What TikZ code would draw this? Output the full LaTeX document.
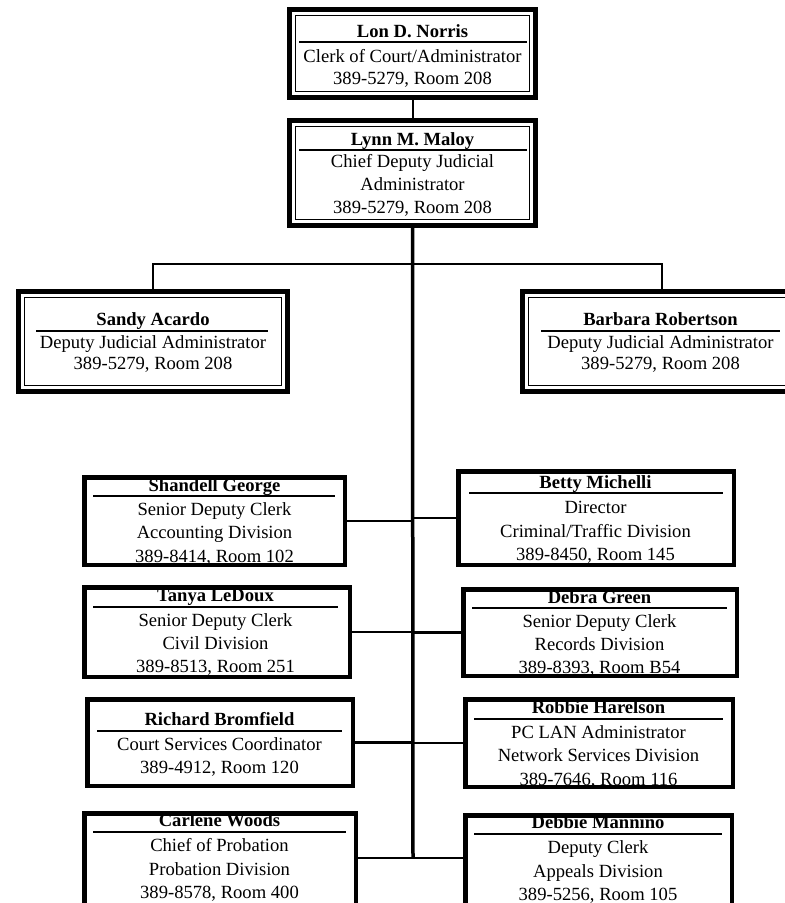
\documentclass[tikz,border=0pt]{standalone}
\usepackage{fontspec}
\setmainfont{Liberation Serif}
\begin{document}
\begin{tikzpicture}[x=1pt,y=1pt,
  tx/.style={anchor=base,inner sep=0pt,outer sep=0pt,font=\fontsize{18.6}{22}\selectfont},
  dblout/.style={draw,line width=5pt,inner sep=0pt,outer sep=0pt,fill=white},
  dblin/.style={line width=1.8pt},
  sgl/.style={draw,line width=4.5pt,inner sep=0pt,outer sep=0pt,fill=white},
  namerule/.style={line width=1.5pt},
  conn/.style={line width=2.5pt},
  trunk/.style={line width=3.5pt}]
\useasboundingbox (0,0) rectangle (785,-903);
\newcounter{tl}
\newcommand\tline[3]{\stepcounter{tl}\node[tx] (tl\arabic{tl}) at (#1,-#2) {#3};}
\newcommand\dblbox[5]{%
  \node[dblout,minimum width={(#4-#2-5)*1pt},minimum height={(#5-#3-5)*1pt}] (#1) at ({(#2+#4)/2},{-(#3+#5)/2}) {};
  \draw[dblin] ([shift={(6,-6)}]#1.north west) rectangle ([shift={(-6,6)}]#1.south east);}
\newcommand\sglbox[5]{%
  \node[sgl,minimum width={(#4-#2-4.5)*1pt},minimum height={(#5-#3-4.5)*1pt}] (#1) at ({(#2+#4)/2},{-(#3+#5)/2}) {};}
\newcommand\nrule[3]{\draw[namerule] (#1,-#3) -- (#2,-#3);}

% connectors first (under boxes)
\coordinate (hb) at (413,-264);
\coordinate (tb) at (413,-858);

% boxes
\dblbox{norris}{287}{7}{538}{100}
\dblbox{maloy}{287}{118}{538}{228}
\dblbox{sandy}{16}{289}{290}{394}
\dblbox{barbara}{520}{289}{804}{394}
\sglbox{shandell}{82}{475}{347}{567}
\sglbox{tanya}{82}{585}{352}{679}
\sglbox{richard}{85}{697}{355}{788}
\sglbox{carlene}{82}{811}{358}{912}
\sglbox{betty}{456}{469}{736}{567}
\sglbox{debra}{461}{587}{739}{678}
\sglbox{robbie}{463}{697}{735}{789}
\sglbox{debbie}{463}{813}{734}{912}

% connectors
\draw[line width=2pt] (norris.south) -- (maloy.north);
\draw[trunk] (maloy.south) -- (tb);
\draw[conn] (sandy.north) |- (hb) -| (barbara.north);
\draw[conn] (shandell.east) -- (shandell.east -| tb);
\draw[conn] (betty.west -| tb) -- (betty.west);
\draw[conn] (tanya.east) -- (tanya.east -| tb);
\draw[conn] (debra.west -| tb) -- (debra.west);
\draw[conn] (richard.east) -- (richard.east -| tb);
\draw[conn] (robbie.west -| tb) -- (robbie.west);
\draw[conn] (carlene.east |- tb) -- (tb) -- (debbie.west |- tb);

% texts
\tline{412.5}{37}{\textbf{Lon D. Norris}}
\nrule{299}{527}{42}
\tline{412.5}{62}{Clerk of Court/Administrator}
\tline{412.5}{84}{389-5279, Room 208}

\tline{412.5}{145}{\textbf{Lynn M. Maloy}}
\nrule{299}{527}{150}
\tline{412.5}{167.5}{Chief Deputy Judicial}
\tline{412.5}{190.5}{Administrator}
\tline{412.5}{213}{389-5279, Room 208}

\tline{153}{325}{\textbf{Sandy Acardo}}
\nrule{36}{268}{331}
\tline{153}{348}{Deputy Judicial Administrator}
\tline{153}{369.5}{389-5279, Room 208}

\tline{660.5}{325}{\textbf{Barbara Robertson}}
\nrule{541}{780}{331}
\tline{660.5}{348}{Deputy Judicial Administrator}
\tline{660.5}{369.5}{389-5279, Room 208}

\tline{214.5}{491.5}{\textbf{Shandell George}}
\nrule{93}{335}{496}
\tline{214.5}{515}{Senior Deputy Clerk}
\tline{214.5}{538.5}{Accounting Division}
\tline{214.5}{562}{389-8414, Room 102}

\tline{215.5}{601.5}{\textbf{Tanya LeDoux}}
\nrule{93}{338}{607}
\tline{215.5}{626.5}{Senior Deputy Clerk}
\tline{215.5}{649.5}{Civil Division}
\tline{215.5}{672.5}{389-8513, Room 251}

\tline{219.5}{725}{\textbf{Richard Bromfield}}
\nrule{97}{342}{731}
\tline{219.5}{750}{Court Services Coordinator}
\tline{219.5}{773}{389-4912, Room 120}

\tline{219.5}{826.5}{\textbf{Carlene Woods}}
\nrule{93}{346}{832}
\tline{219.5}{851.5}{Chief of Probation}
\tline{219.5}{875}{Probation Division}
\tline{219.5}{898}{389-8578, Room 400}

\tline{595.5}{488}{\textbf{Betty Michelli}}
\nrule{469}{723}{493}
\tline{595.5}{513}{Director}
\tline{595.5}{537}{Criminal/Traffic Division}
\tline{595.5}{560.5}{389-8450, Room 145}

\tline{599.5}{603}{\textbf{Debra Green}}
\nrule{472}{727}{608}
\tline{599.5}{627}{Senior Deputy Clerk}
\tline{599.5}{650.5}{Records Division}
\tline{599.5}{673.5}{389-8393, Room B54}

\tline{598.5}{713.5}{\textbf{Robbie Harelson}}
\nrule{474}{723}{719}
\tline{598.5}{738}{PC LAN Administrator}
\tline{598.5}{761.5}{Network Services Division}
\tline{598.5}{785}{389-7646, Room 116}

\tline{598}{828.5}{\textbf{Debbie Mannino}}
\nrule{474}{722}{834}
\tline{598}{853}{Deputy Clerk}
\tline{598}{877}{Appeals Division}
\tline{598}{900}{389-5256, Room 105}
\end{tikzpicture}
\end{document}
